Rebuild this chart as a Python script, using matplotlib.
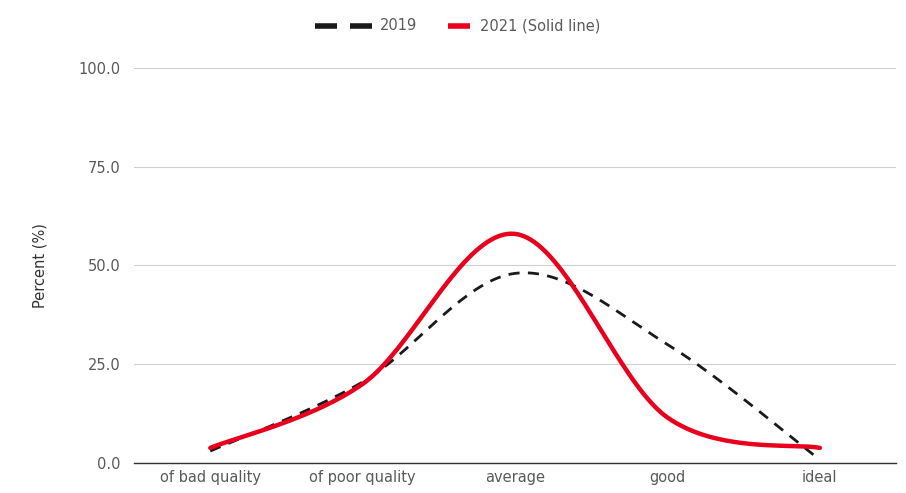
import numpy as np
import matplotlib
matplotlib.use("Agg")
import matplotlib.pyplot as plt
from matplotlib.lines import Line2D

categories = ["of bad quality", "of poor quality", "average", "good", "ideal"]
values_2019 = [3.0, 20.5, 48.0, 30.0, 0.8]
values_2021 = [3.8, 20.0, 58.0, 11.5, 3.8]
yticks = [0.0, 25.0, 50.0, 75.0, 100.0]
series_names = ["2019", "2021 (Solid line)"]


def smooth(xs, ys, n=40, k=6.0):
    xs = np.asarray(xs, float)
    ys = np.asarray(ys, float)
    P = np.column_stack([xs, ys])
    Pext = np.vstack([P[0], P, P[-1]])
    out = []
    for i in range(len(P) - 1):
        p0, p1, p2, p3 = Pext[i], Pext[i + 1], Pext[i + 2], Pext[i + 3]
        c1 = p1 + (p2 - p0) / k
        c2 = p2 - (p3 - p1) / k
        t = np.linspace(0, 1, n)[:, None]
        seg = ((1 - t) ** 3) * p1 + 3 * ((1 - t) ** 2) * t * c1 + 3 * (1 - t) * t ** 2 * c2 + t ** 3 * p2
        if i > 0:
            seg = seg[1:]
        out.append(seg)
    out = np.vstack(out)
    return out[:, 0], out[:, 1]


W, H = 906, 493
fig = plt.figure(figsize=(W / 100, H / 100), dpi=100)
ax = fig.add_axes([0.148, 0.061, 0.841, 0.801])

BLACK = "#1a1a1a"
RED = "#e8001c"
TXT = "#5a5a5a"
FS = 10.5

x = np.arange(len(categories))
sx, sy = smooth(x, values_2019)
ax.plot(sx, sy, color=BLACK, lw=2.0, dashes=(4, 3), zorder=3)
rx, ry = smooth(x, values_2021)
ax.plot(rx, ry, color=RED, lw=3.2, zorder=4, solid_capstyle="round")

ax.set_xlim(-0.5, len(categories) - 0.5)
ax.set_ylim(0, 100)
ax.set_xticks(x)
ax.set_xticklabels(categories)
ax.set_yticks(yticks)
ax.set_yticklabels([f"{v:.1f}" for v in yticks])
ax.tick_params(axis="both", length=0, labelsize=FS, labelcolor=TXT)
ax.tick_params(axis="y", pad=10)
ax.tick_params(axis="x", pad=5)
ax.grid(axis="y", color="#d0d0d0", lw=0.8)
ax.set_axisbelow(True)
for s in ["top", "right", "left"]:
    ax.spines[s].set_visible(False)
ax.spines["bottom"].set_color("#333333")
ax.spines["bottom"].set_linewidth(1.0)
ax.set_ylabel("Percent (%)", fontsize=FS, color="#333333", labelpad=22)


def fx(px):
    return px / W


def fy(py):
    return 1 - py / H


ly = 26
# legend entry 1: dashed black
fig.add_artist(Line2D([fx(315), fx(337)], [fy(ly), fy(ly)], color=BLACK, lw=4, solid_capstyle="butt"))
fig.add_artist(Line2D([fx(350), fx(372)], [fy(ly), fy(ly)], color=BLACK, lw=4, solid_capstyle="butt"))
fig.text(fx(380), fy(ly), series_names[0], fontsize=FS, color=TXT, va="center", ha="left")
# legend entry 2: red solid
fig.add_artist(Line2D([fx(448), fx(470)], [fy(ly), fy(ly)], color=RED, lw=4, solid_capstyle="butt"))
fig.text(fx(480), fy(ly), series_names[1], fontsize=FS, color=TXT, va="center", ha="left")

fig.savefig("out.png", dpi=100)
